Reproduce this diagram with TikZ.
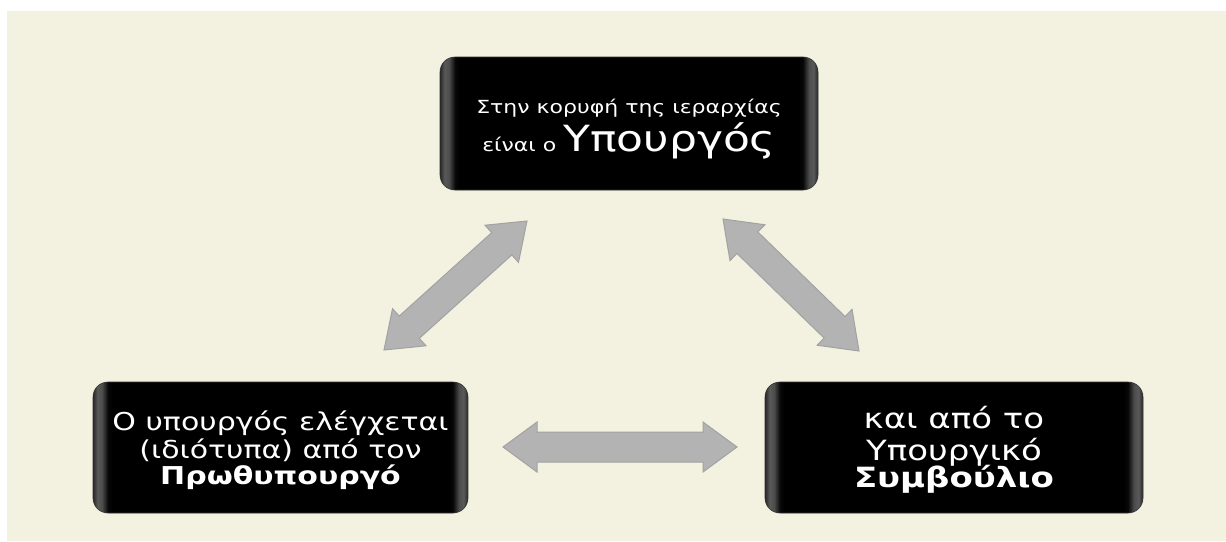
\documentclass[tikz,border=0pt]{standalone}
\usepackage{fontspec}
\setmainfont{DejaVu Sans}
\usetikzlibrary{calc}
\definecolor{bgbeige}{HTML}{F3F1E0}
\definecolor{arrowfill}{HTML}{B3B3B3}
\definecolor{arrowline}{HTML}{A2A2A2}
\pgfdeclarehorizontalshading{glossbox}{100bp}{color(0bp)=(black!85); color(25bp)=(black!85); color(25.6bp)=(black!65); color(26.2bp)=(black!70); color(27bp)=(black!97); color(27.6bp)=(black); color(72.4bp)=(black); color(73bp)=(black!97); color(73.8bp)=(black!70); color(74.4bp)=(black!65); color(75bp)=(black!85); color(100bp)=(black!85)}
\newcommand\blockarrow[2]{%
  \draw[blockarr] (#1)
    -- ($(#1)!34pt!(#2)!25pt!90:(#2)$)
    -- ($(#1)!34pt!(#2)!15pt!90:(#2)$)
    -- ($(#2)!34pt!(#1)!15pt!-90:(#1)$)
    -- ($(#2)!34pt!(#1)!25pt!-90:(#1)$)
    -- (#2)
    -- ($(#2)!34pt!(#1)!25pt!90:(#1)$)
    -- ($(#2)!34pt!(#1)!15pt!90:(#1)$)
    -- ($(#1)!34pt!(#2)!15pt!-90:(#2)$)
    -- ($(#1)!34pt!(#2)!25pt!-90:(#2)$)
    -- cycle;}
\tikzset{
  glossy/.style={rounded corners=15pt, shade, shading=glossbox, draw=black!80, line width=0.6pt, inner sep=0pt},
  blockarr/.style={fill=arrowfill, draw=arrowline, line width=1pt, line join=miter},
  boxtext/.style={text=white, inner sep=0pt}
}
\begin{document}
\begin{tikzpicture}[x=1pt,y=-1pt]
\useasboundingbox (0,0) rectangle (1226,541);
\fill[white] (0,0) rectangle (1226,541);
\fill[bgbeige] (7,11) rectangle (1226,541);

% boxes
\node[glossy, minimum width=378pt, minimum height=133pt] (top) at (629,123.5) {};
\node[glossy, minimum width=375pt, minimum height=131pt] (left) at (280.5,447.5) {};
\node[glossy, minimum width=378pt, minimum height=131pt] (right) at (954,447.5) {};

% texts
\node[boxtext] (toptxt) at ([yshift=-3pt]top.center) {\scalebox{1}[0.82]{\fontsize{22}{36}\selectfont\begin{tabular}{@{}c@{}}Στην κορυφή της ιεραρχίας\\ είναι ο {\fontsize{44}{36}\selectfont Υπουργός}\end{tabular}}};
\node[boxtext] (lefttxt) at ([yshift=-4pt]left.center) {\scalebox{1}[0.82]{\fontsize{30}{35}\selectfont\begin{tabular}{@{}c@{}}Ο υπουργός ελέγχεται\\ (ιδιότυπα) από τον\\[-4pt] \textbf{Πρωθυπουργό}\end{tabular}}};
\node[boxtext] (righttxt) at ([yshift=-4pt]right.center) {\scalebox{1}[0.82]{\fontsize{34}{37}\selectfont\begin{tabular}{@{}c@{}}και από το\\ Υπουργικό\\[-5pt] \textbf{Συμβούλιο}\end{tabular}}};

% arrow end points
\coordinate (a1) at (384,350);
\coordinate (a2) at (527,221);
\coordinate (b1) at (723,219);
\coordinate (b2) at (859,351);
\coordinate (c1) at (503,447);
\coordinate (c2) at (737,447);

\blockarrow{a1}{a2}
\blockarrow{b1}{b2}
\blockarrow{c1}{c2}
\end{tikzpicture}
\end{document}
